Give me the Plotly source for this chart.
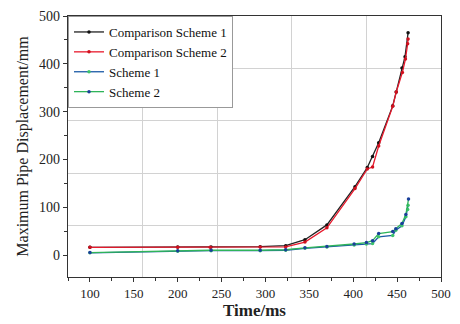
import plotly.graph_objects as go

# Time (ms) and maximum pipe displacement (mm)
comp1_t = [100, 200, 238, 294, 323, 345, 370, 402, 416, 422, 429, 445, 449, 455.5, 459, 462.5]
comp1_d = [16, 16.5, 16.5, 17.5, 19.5, 32, 63, 143, 183, 206, 235, 312, 341, 391, 415, 465]

comp2_t = [100, 200, 237, 294, 323, 345, 370, 402, 416, 422, 429, 445, 449, 456, 459.5, 462, 462.5]
comp2_d = [16, 16, 16, 16.5, 17, 27, 57, 139, 180, 184, 228, 311, 341, 382, 410, 442, 452]

s1_t = [100, 200, 238, 294, 323, 345, 370, 401, 415, 422, 429, 445, 448.5, 455.5, 460, 462, 462.5]
s1_d = [4.5, 8, 9, 9, 10, 14, 17, 21, 23, 24, 38, 41, 52, 61, 80, 95, 104]

s2_t = [100, 200, 238, 294, 323, 345, 370, 401, 415, 422, 429, 445, 448.5, 455.5, 460, 463]
s2_d = [5, 9, 10, 10, 11, 15, 18, 23, 26, 30, 45, 49, 55, 66, 85, 117]

x_ticks = [100, 150, 200, 250, 300, 350, 400, 450, 500]
y_ticks = [0, 100, 200, 300, 400, 500]

SERIF = "Liberation Serif"

fig = go.Figure()

def add(t, d, name, lc, mc):
    fig.add_trace(go.Scatter(
        x=t, y=d, name=name, mode="lines+markers",
        line=dict(color=lc, width=1.3),
        marker=dict(color=mc, size=3.5, symbol="circle"),
        xaxis="x", yaxis="y"))

add(comp1_t, comp1_d, "Comparison Scheme 1", "#222222", "#111111")
add(comp2_t, comp2_d, "Comparison Scheme 2", "#e8192c", "#d0101e")
add(s1_t, s1_d, "Scheme 1", "#1b5aa6", "#3cc46a")
add(s2_t, s2_d, "Scheme 2", "#2fb45a", "#1a3f9a")
# empty trace hosting the grid overlay axes
fig.add_trace(go.Scatter(x=[], y=[], xaxis="x2", yaxis="y2", showlegend=False, hoverinfo="skip"))

XR = [75, 500]
YR = [-46, 500]
grid_col = "#d2d2d2"

fig.update_layout(
    width=460, height=324,
    margin=dict(l=68, r=9, t=14, b=38),
    paper_bgcolor="white", plot_bgcolor="white",
    font=dict(family=SERIF, size=13, color="#222222"),
    showlegend=True,
    legend=dict(x=0, y=1, xanchor="left", yanchor="top",
                bgcolor="white", bordercolor="#999999", borderwidth=1,
                font=dict(family=SERIF, size=13, color="#111111"),
                tracegroupgap=0, itemwidth=30),
    xaxis2=dict(range=XR, overlaying="x", anchor="y2", showgrid=True, gridcolor=grid_col, gridwidth=1,
                tick0=160, dtick=85, showticklabels=False, ticks="",
                zeroline=False, showline=False),
    yaxis2=dict(range=YR, overlaying="y", anchor="x2", showgrid=True, gridcolor=grid_col, gridwidth=1,
                tick0=61, dtick=110, showticklabels=False, ticks="",
                zeroline=False, showline=False),
    xaxis=dict(range=XR, side="bottom",
               tickmode="array", tickvals=x_ticks, ticktext=[str(v) for v in x_ticks],
               showgrid=False, zeroline=False,
               showline=True, linecolor="#333333", linewidth=1.2, mirror=True,
               ticks="outside", ticklen=4, tickcolor="#333333",
               minor=dict(dtick=25, tick0=75, ticks="outside", ticklen=2.5, tickcolor="#333333"),
               tickfont=dict(family=SERIF, size=13, color="#222222"),
               title=dict(text="<b>Time/ms</b>", font=dict(family=SERIF, size=17, color="#222222"), standoff=2)),
    yaxis=dict(range=YR, side="left",
               tickmode="array", tickvals=y_ticks, ticktext=[str(v) for v in y_ticks],
               showgrid=False, zeroline=False,
               showline=True, linecolor="#333333", linewidth=1.2, mirror=True,
               ticks="outside", ticklen=4, tickcolor="#333333",
               minor=dict(dtick=50, tick0=0, ticks="outside", ticklen=2.5, tickcolor="#333333"),
               tickfont=dict(family=SERIF, size=14, color="#222222"),
               title=dict(text="Maximum Pipe Displacement/mm", font=dict(family=SERIF, size=16, color="#222222"), standoff=6)),
)

fig.write_html("out.html")
